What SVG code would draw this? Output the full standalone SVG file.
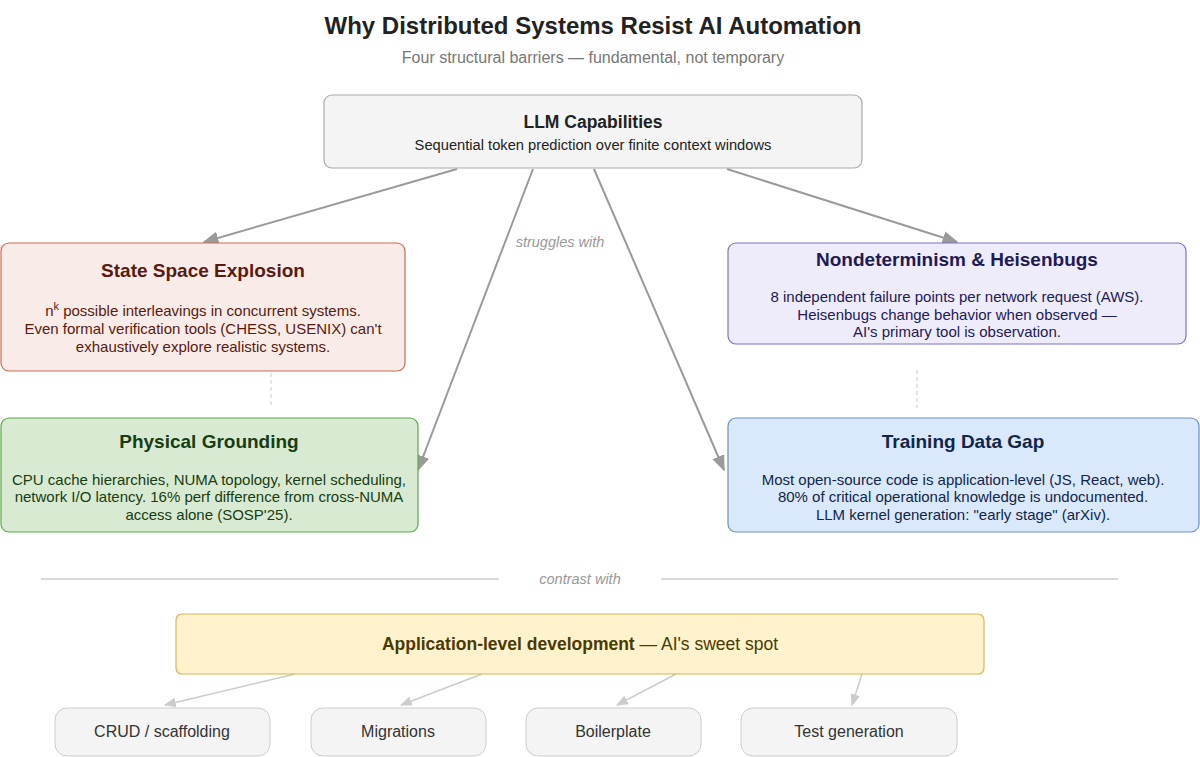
<svg xmlns="http://www.w3.org/2000/svg" width="1200" height="757" viewBox="0 0 1200 757">
<style>
text{font-family:"Liberation Sans",Arial,sans-serif;text-anchor:middle}
.t{font-size:19px;font-weight:bold}
.b{font-size:15px}
.lbl{font-size:14.5px;font-style:italic;fill:#999}
.e{fill:none;stroke:#9a9a9a;stroke-width:2}
.el{fill:none;stroke:#cccccc;stroke-width:1.5}
.s{font-size:16px;fill:#333}
</style>
<defs>
<marker id="a2" viewBox="0 0 10 10" refX="9" refY="5" markerWidth="12" markerHeight="12" orient="auto" markerUnits="userSpaceOnUse"><path d="M0,1L10,5L0,9z" fill="#cccccc"/></marker>
<marker id="a1" viewBox="0 0 10 10" refX="9" refY="5" markerWidth="16" markerHeight="16" orient="auto" markerUnits="userSpaceOnUse"><path d="M0,1L10,5L0,9z" fill="#9a9a9a"/></marker>
</defs>
<rect width="1200" height="757" fill="#fff"/>
<text x="593" y="34" style="font-size:24px;font-weight:bold" fill="#222">Why Distributed Systems Resist AI Automation</text>
<text x="593" y="63" style="font-size:16px" fill="#777">Four structural barriers — fundamental, not temporary</text>
<g id="connectors">
<path class="e" d="M457,169L204,242" marker-end="url(#a1)"/>
<path class="e" d="M533,169L418,470" marker-end="url(#a1)"/>
<path class="e" d="M594,169L724,470" marker-end="url(#a1)"/>
<path class="e" d="M727,169L957,242" marker-end="url(#a1)"/>
<line x1="271" y1="373" x2="271" y2="408" stroke="#ccc" stroke-dasharray="4,3"/>
<line x1="917" y1="370" x2="917" y2="408" stroke="#ccc" stroke-dasharray="4,3"/>
<path class="el" d="M295,674L165,705" marker-end="url(#a2)"/>
<path class="el" d="M482,674L401,705" marker-end="url(#a2)"/>
<path class="el" d="M676,674L617,705" marker-end="url(#a2)"/>
<path class="el" d="M862,674L852,705" marker-end="url(#a2)"/>
<text class="lbl" x="560" y="247">struggles with</text>
<line x1="41" y1="579" x2="499" y2="579" stroke="#ccc" stroke-width="1.5"/>
<line x1="661" y1="579" x2="1118" y2="579" stroke="#ccc" stroke-width="1.5"/>
<text class="lbl" x="580" y="584">contrast with</text>
</g>
<g id="llm">
<rect x="324" y="95" width="538" height="73" rx="8" fill="#f4f4f4" stroke="#aaa" stroke-width="1.2"/>
<text x="593" y="128" style="font-size:17.5px;font-weight:bold" fill="#222">LLM Capabilities</text>
<text x="593" y="150" style="font-size:14.7px" fill="#222">Sequential token prediction over finite context windows</text>
</g>
<g id="state">
<rect x="1" y="243" width="404" height="128" rx="8" fill="#f9ebe7" stroke="#d06a55" stroke-width="1.2"/>
<text class="t" x="203" y="277" fill="#5a1a10">State Space Explosion</text>
<text class="b" x="203" y="316" fill="#5a1a10">n<tspan dy="-6" style="font-size:11px">k</tspan><tspan dy="6"> possible interleavings in concurrent systems.</tspan></text>
<text class="b" x="203" y="334" fill="#5a1a10">Even formal verification tools (CHESS, USENIX) can't</text>
<text class="b" x="203" y="352" fill="#5a1a10">exhaustively explore realistic systems.</text>
</g>
<g id="nondet">
<rect x="728" y="243" width="458" height="101" rx="8" fill="#eeebfb" stroke="#8070c8" stroke-width="1.2"/>
<text class="t" x="957" y="266" fill="#221a55">Nondeterminism &amp; Heisenbugs</text>
<text class="b" x="957" y="302" fill="#221a55">8 independent failure points per network request (AWS).</text>
<text class="b" x="957" y="320" fill="#221a55">Heisenbugs change behavior when observed —</text>
<text class="b" x="957" y="337" fill="#221a55">AI's primary tool is observation.</text>
</g>
<g id="physical">
<rect x="1" y="418" width="417" height="114" rx="8" fill="#d9ead3" stroke="#5aa84a" stroke-width="1.2"/>
<text class="t" x="209" y="448" fill="#173d12">Physical Grounding</text>
<text class="b" x="209" y="485" fill="#173d12">CPU cache hierarchies, NUMA topology, kernel scheduling,</text>
<text class="b" x="209" y="502" fill="#173d12">network I/O latency. 16% perf difference from cross-NUMA</text>
<text class="b" x="209" y="520" fill="#173d12">access alone (SOSP'25).</text>
</g>
<g id="training">
<rect x="728" y="418" width="471" height="114" rx="8" fill="#dae8fc" stroke="#6c8ebf" stroke-width="1.2"/>
<text class="t" x="963" y="448" fill="#10264a">Training Data Gap</text>
<text class="b" x="963" y="485" fill="#10264a">Most open-source code is application-level (JS, React, web).</text>
<text class="b" x="963" y="502" fill="#10264a">80% of critical operational knowledge is undocumented.</text>
<text class="b" x="963" y="520" fill="#10264a">LLM kernel generation: "early stage" (arXiv).</text>
</g>
<g id="app">
<rect x="176" y="614" width="808" height="60" rx="6" fill="#fff2cc" stroke="#d6b656" stroke-width="1.2"/>
<text x="580" y="650" style="font-size:17.5px" fill="#4a3a00"><tspan font-weight="bold">Application-level development</tspan> — AI's sweet spot</text>
</g>
<g id="crud"><rect x="55" y="708" width="215" height="48" rx="12" fill="#f4f4f4" stroke="#ccc"/><text class="s" x="162" y="737">CRUD / scaffolding</text></g>
<g id="migrations"><rect x="311" y="708" width="175" height="48" rx="12" fill="#f4f4f4" stroke="#ccc"/><text class="s" x="398" y="737">Migrations</text></g>
<g id="boilerplate"><rect x="526" y="708" width="175" height="48" rx="12" fill="#f4f4f4" stroke="#ccc"/><text class="s" x="613" y="737">Boilerplate</text></g>
<g id="testgen"><rect x="741" y="708" width="216" height="48" rx="12" fill="#f4f4f4" stroke="#ccc"/><text class="s" x="849" y="737">Test generation</text></g>
</svg>
